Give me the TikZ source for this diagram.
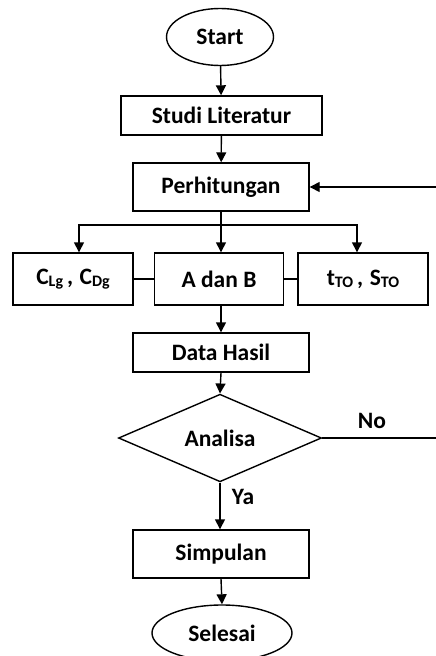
\documentclass[tikz,border=0pt]{standalone}
\usepackage{fontspec}
\setmainfont{Carlito}
\usetikzlibrary{shapes.geometric,arrows.meta}
\newcommand{\sub}[1]{\raisebox{-2.5pt}{\fontsize{16}{18}\selectfont #1}}
\begin{document}
\begin{tikzpicture}[x=1pt,y=-1pt,
  font=\bfseries\fontsize{23.5}{27}\selectfont,
  line width=1.4pt,
  arr/.style={-{Triangle[length=10pt,width=10pt]}},
  box/.style={draw, rectangle, inner sep=0pt},
  term/.style={draw, ellipse, inner sep=0pt}]
\useasboundingbox (0,0) rectangle (436,656);
\node[term, minimum width=107pt, minimum height=57pt] (start) at (220,37) {Start};
\node[box, minimum width=201pt, minimum height=39pt] (studi) at (221.5,115.5) {Studi Literatur};
\node[box, minimum width=176pt, minimum height=48pt] (perh) at (221,187) {Perhitungan};
\node[box, minimum width=120pt, minimum height=52pt] (left) at (73,279) {C\sub{Lg}\,,\;C\sub{Dg}};
\node[box, minimum width=129pt, minimum height=52pt] (mid) at (219,279) {A dan B};
\node[box, minimum width=130pt, minimum height=52pt] (right) at (363,279) {t\sub{TO}\,,\;S\sub{TO}};
\node[box, minimum width=176pt, minimum height=39pt] (data) at (221,352.5) {Data Hasil};
\node[draw, diamond, minimum width=203pt, minimum height=75pt, inner sep=0pt] (dia) at (220,438) {Analisa};
\node[box, minimum width=176pt, minimum height=48pt] (simp) at (221,554) {Simpulan};
\node[term, minimum width=140pt, minimum height=56pt] (sel) at (222,633) {Selesai};
\node (no) at (372,421) {No};
\node (ya) at (243,497) {Ya};
\coordinate (j) at (221,225);
\coordinate (fb) at (436,187);
\coordinate (noend) at (436,438);
\draw[arr] (start) -- (studi);
\draw[arr] (studi) -- (perh);
\draw (perh.south) -- (j);
\draw[arr] (j) -| ([xshift=6pt]left.north);
\draw[arr] (j) -| ([xshift=-6pt]right.north);
\draw[arr] (j) -- (mid.north -| j);
\draw (left.east) -- (mid.west);
\draw (mid.east) -- (right.west);
\draw[arr] (mid.south -| j) -- (data.north -| j);
\draw[arr] (data.south -| j) -- (dia.north);
\draw[arr] (dia.south) -- (simp.north -| dia.south);
\draw[arr] (simp.south) -- (sel.north);
\draw (dia.east) -- (noend);
\draw[arr] (fb) -- (perh.east);
\end{tikzpicture}
\end{document}
